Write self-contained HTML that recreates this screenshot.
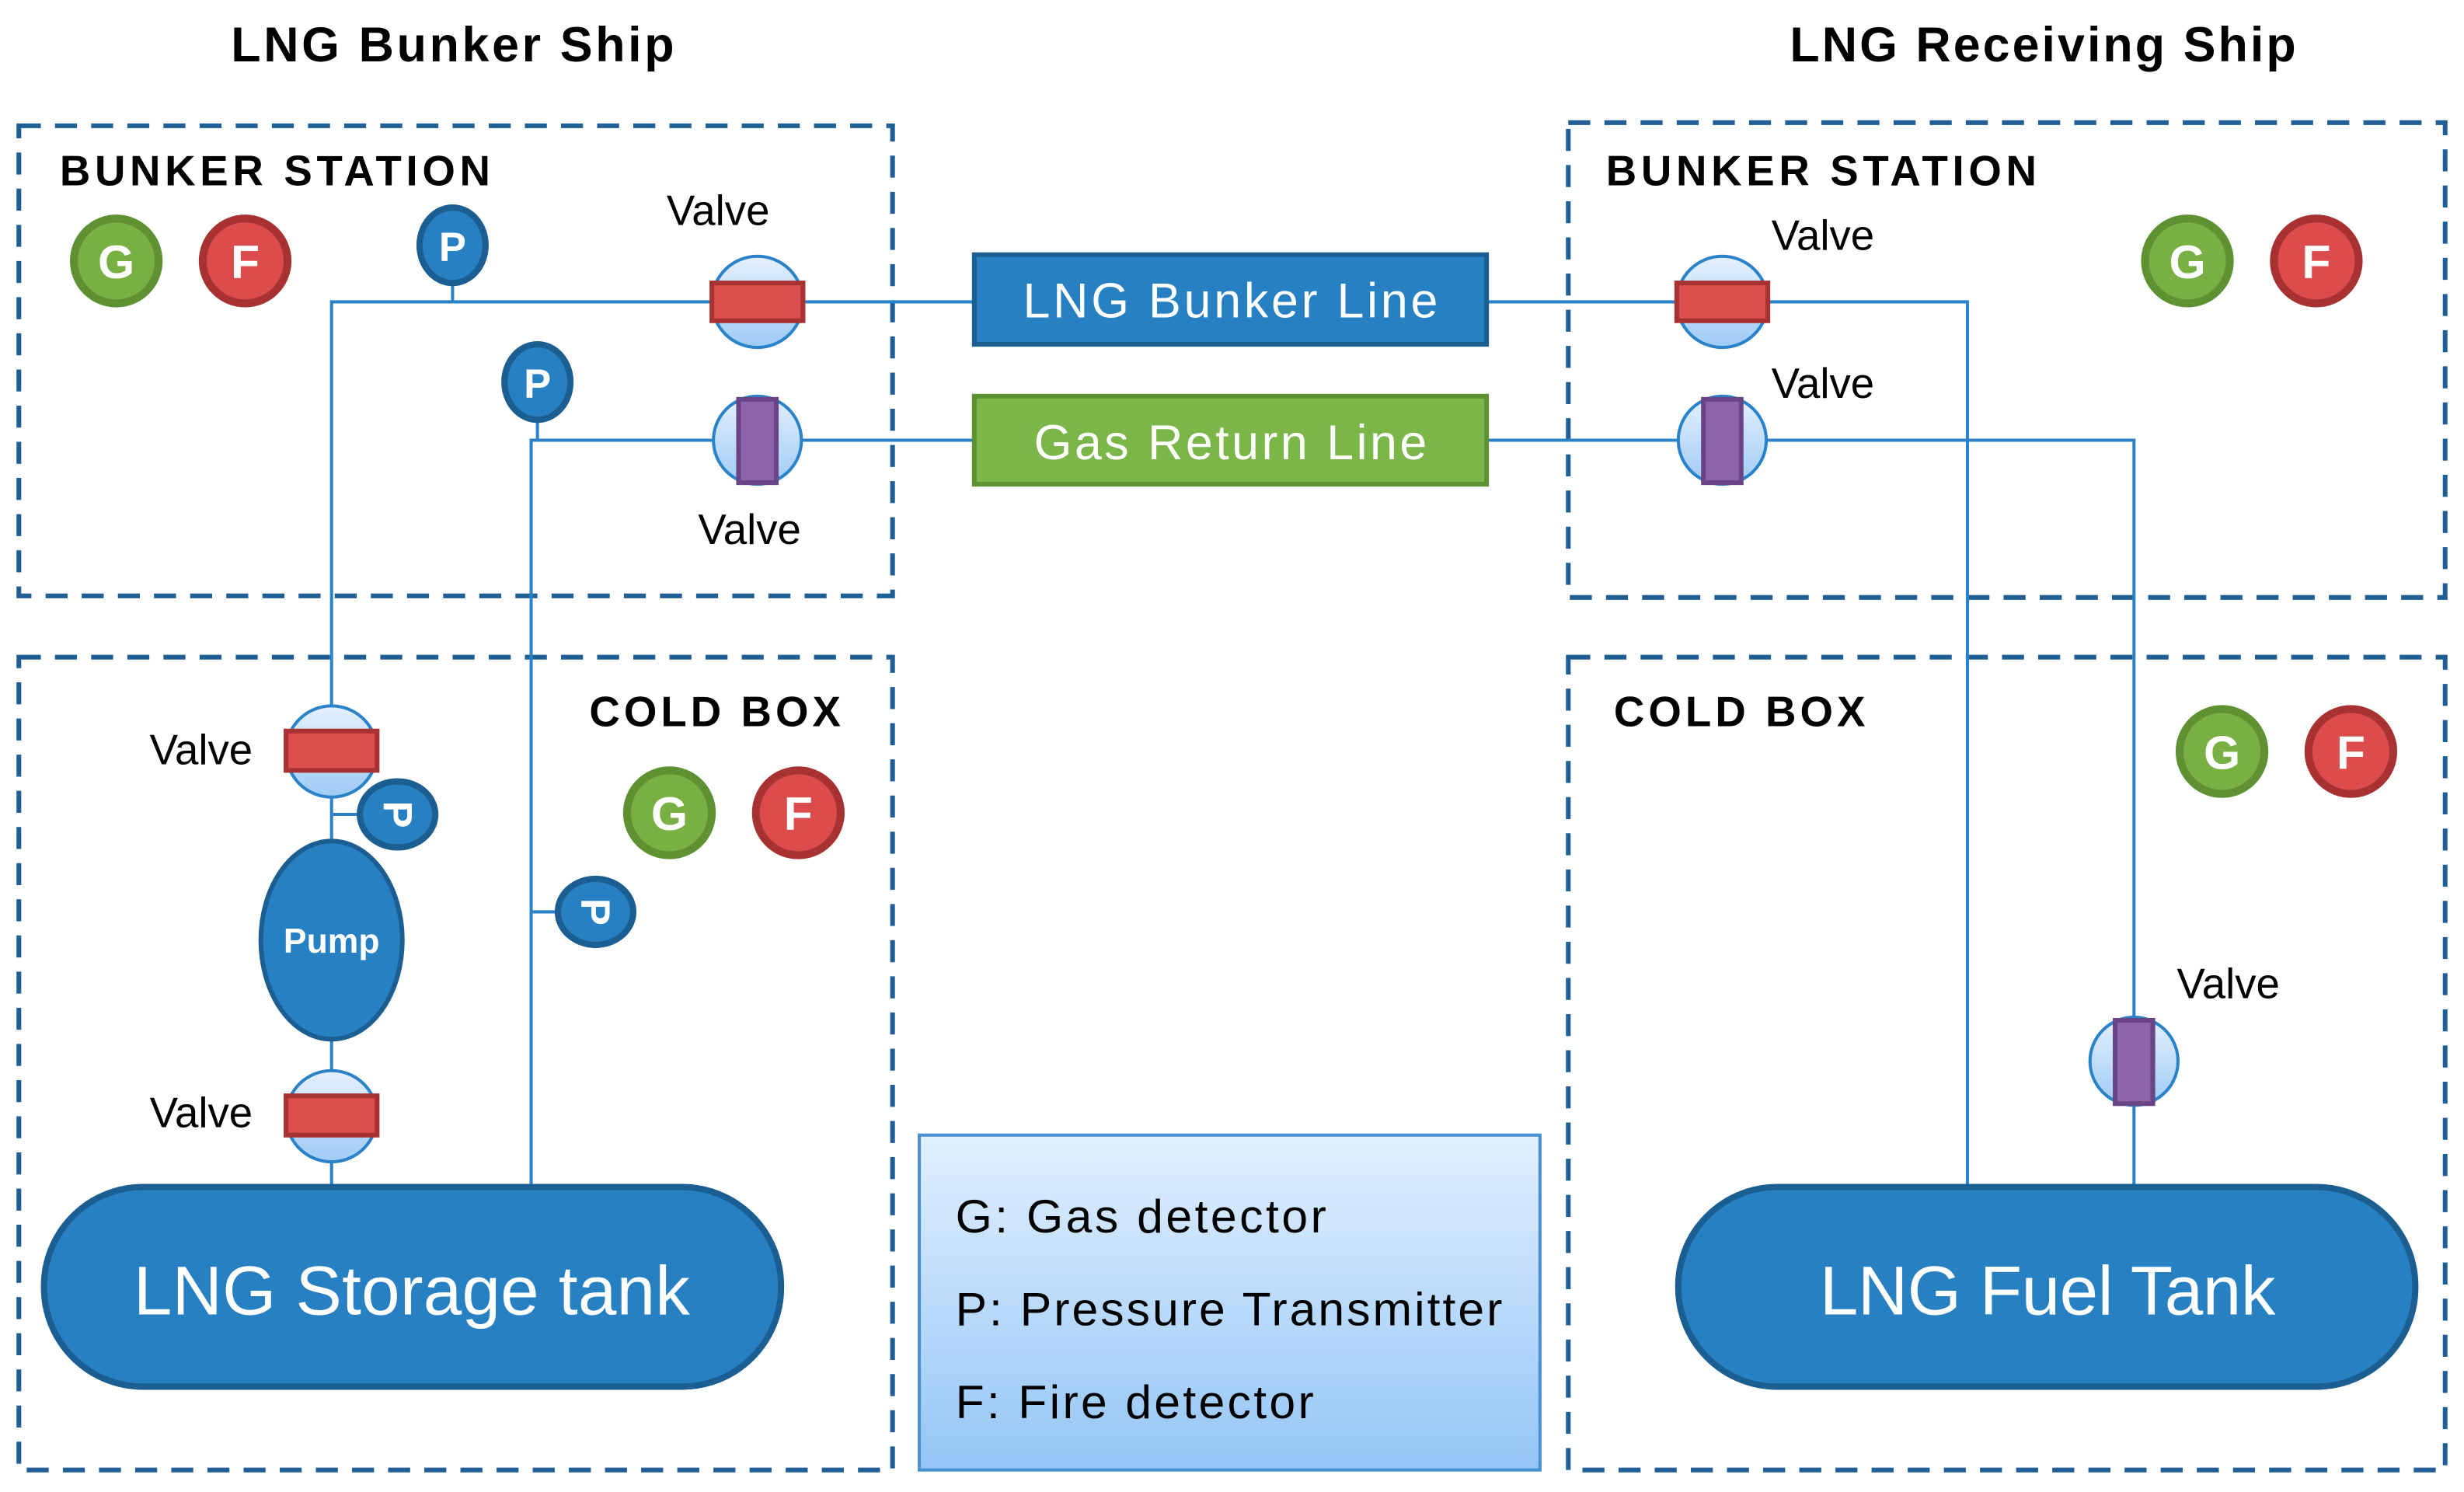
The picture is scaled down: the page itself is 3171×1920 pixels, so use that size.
<!DOCTYPE html>
<html><head><meta charset="utf-8"><style>html,body{margin:0;padding:0;background:#fff}svg{display:block}</style></head>
<body>
<svg width="3171" height="1920" viewBox="0 0 1568 949" preserveAspectRatio="none" xmlns="http://www.w3.org/2000/svg" font-family="Liberation Sans, sans-serif">
<defs>
<linearGradient id="vg" x1="0" y1="0" x2="0" y2="1"><stop offset="0" stop-color="#e4f0fd"/><stop offset="1" stop-color="#9fcbf5"/></linearGradient>
<linearGradient id="lg" x1="0" y1="0" x2="0" y2="1"><stop offset="0" stop-color="#e2f0ff"/><stop offset="1" stop-color="#94c5f5"/></linearGradient>
</defs>
<rect width="1568" height="949" fill="#fff"/>
<text x="288" y="39" font-size="31" font-weight="bold" text-anchor="middle" textLength="282">LNG Bunker Ship</text>
<text x="1300" y="39" font-size="31" font-weight="bold" text-anchor="middle" textLength="322">LNG Receiving Ship</text>
<g fill="none" stroke="#1f5f95" stroke-width="3" stroke-dasharray="14,9">
<rect x="12" y="80" width="556" height="299"/>
<rect x="12" y="418" width="556" height="517"/>
<rect x="998" y="78" width="558" height="302"/>
<rect x="998" y="418" width="558" height="517"/>
</g>
<g font-size="27" font-weight="bold">
<text x="38" y="118" textLength="274">BUNKER STATION</text>
<text x="1022" y="118" textLength="274">BUNKER STATION</text>
<text x="375" y="462" textLength="160">COLD BOX</text>
<text x="1027" y="462" textLength="160">COLD BOX</text>
</g>
<!-- lines -->
<g stroke="#2a82c8" stroke-width="2" fill="none">
<path d="M211 754 V192 H620"/>
<path d="M288 180 V192"/>
<path d="M338 754 V280 H620"/>
<path d="M342 265 V280"/>
<path d="M946 192 H1252 V754"/>
<path d="M946 280 H1358 V754"/>
<path d="M211 518 H232"/>
<path d="M338 580 H358"/>
</g>
<!-- line boxes -->
<rect x="620" y="162" width="326" height="57" fill="#2780c2" stroke="#1b5e91" stroke-width="3"/>
<text x="783" y="202" font-size="31" fill="#fff" text-anchor="middle" textLength="264">LNG Bunker Line</text>
<rect x="620" y="252" width="326" height="56" fill="#7ab648" stroke="#5e9133" stroke-width="3"/>
<text x="783" y="292" font-size="31" fill="#fff" text-anchor="middle" textLength="250">Gas Return Line</text>
<!-- red valves -->
<g stroke="#2a82c8" stroke-width="2" fill="url(#vg)">
<circle cx="482" cy="192" r="29"/><circle cx="1096" cy="192" r="29"/>
<circle cx="211" cy="478" r="29"/><circle cx="211" cy="710" r="29"/>
<circle cx="482" cy="280" r="28"/><circle cx="1096" cy="280" r="28"/><circle cx="1358" cy="675" r="28"/>
</g>
<g fill="#dc4e4e" stroke="#a83232" stroke-width="3">
<rect x="453" y="180" width="58" height="24"/><rect x="1067" y="180" width="58" height="24"/>
<rect x="182" y="465" width="58" height="25"/><rect x="182" y="697" width="58" height="25"/>
</g>
<g fill="#8e65ab" stroke="#6a4585" stroke-width="3">
<rect x="470" y="254" width="24" height="53"/><rect x="1084" y="254" width="24" height="53"/><rect x="1346" y="649" width="24" height="53"/>
</g>
<g font-size="27">
<text x="457" y="143" text-anchor="middle">Valve</text>
<text x="477" y="346" text-anchor="middle">Valve</text>
<text x="1160" y="159" text-anchor="middle">Valve</text>
<text x="1160" y="253" text-anchor="middle">Valve</text>
<text x="1418" y="635" text-anchor="middle">Valve</text>
<text x="128" y="486" text-anchor="middle">Valve</text>
<text x="128" y="717" text-anchor="middle">Valve</text>
</g>
<!-- pump -->
<ellipse cx="211" cy="598" rx="45" ry="63" fill="#2780c2" stroke="#1b5e91" stroke-width="3"/>
<text x="211" y="606" font-size="22" font-weight="bold" fill="#fff" text-anchor="middle">Pump</text>
<!-- P sensors -->
<g fill="#2780c2" stroke="#1b5e91" stroke-width="4">
<ellipse cx="288" cy="156" rx="21" ry="24"/>
<ellipse cx="342" cy="243" rx="21" ry="24"/>
<ellipse cx="253" cy="518" rx="24" ry="21"/>
<ellipse cx="379" cy="580" rx="24" ry="21"/>
</g>
<g font-size="26" font-weight="bold" fill="#fff" text-anchor="middle">
<text x="288" y="166">P</text>
<text x="342" y="253">P</text>
<text transform="translate(253,518) rotate(90)" y="9">P</text>
<text transform="translate(379,580) rotate(90)" y="9">P</text>
</g>
<!-- G/F -->
<g stroke-width="5">
<circle cx="74" cy="166" r="27" fill="#78b043" stroke="#5e9132"/>
<circle cx="156" cy="166" r="27" fill="#dc4c4c" stroke="#a83232"/>
<circle cx="426" cy="517" r="27" fill="#78b043" stroke="#5e9132"/>
<circle cx="508" cy="517" r="27" fill="#dc4c4c" stroke="#a83232"/>
<circle cx="1392" cy="166" r="27" fill="#78b043" stroke="#5e9132"/>
<circle cx="1474" cy="166" r="27" fill="#dc4c4c" stroke="#a83232"/>
<circle cx="1414" cy="478" r="27" fill="#78b043" stroke="#5e9132"/>
<circle cx="1496" cy="478" r="27" fill="#dc4c4c" stroke="#a83232"/>
</g>
<g font-size="30" font-weight="bold" fill="#fff" text-anchor="middle">
<text x="74" y="177">G</text><text x="156" y="177">F</text>
<text x="426" y="528">G</text><text x="508" y="528">F</text>
<text x="1392" y="177">G</text><text x="1474" y="177">F</text>
<text x="1414" y="489">G</text><text x="1496" y="489">F</text>
</g>
<!-- tanks -->
<rect x="28" y="755" width="469" height="127" rx="63" fill="#2780c2" stroke="#1b5e91" stroke-width="4"/>
<text x="262" y="836" font-size="44" fill="#fff" text-anchor="middle" textLength="354">LNG Storage tank</text>
<rect x="1068" y="755" width="469" height="127" rx="63" fill="#2780c2" stroke="#1b5e91" stroke-width="4"/>
<text x="1303" y="836" font-size="44" fill="#fff" text-anchor="middle" textLength="290">LNG Fuel Tank</text>
<!-- legend -->
<rect x="585" y="722" width="395" height="213" fill="url(#lg)" stroke="#4a90d0" stroke-width="2"/>
<g font-size="30">
<text x="608" y="784" textLength="236">G: Gas detector</text>
<text x="608" y="843" textLength="348">P: Pressure Transmitter</text>
<text x="608" y="902" textLength="228">F: Fire detector</text>
</g>
</svg>
</body></html>
